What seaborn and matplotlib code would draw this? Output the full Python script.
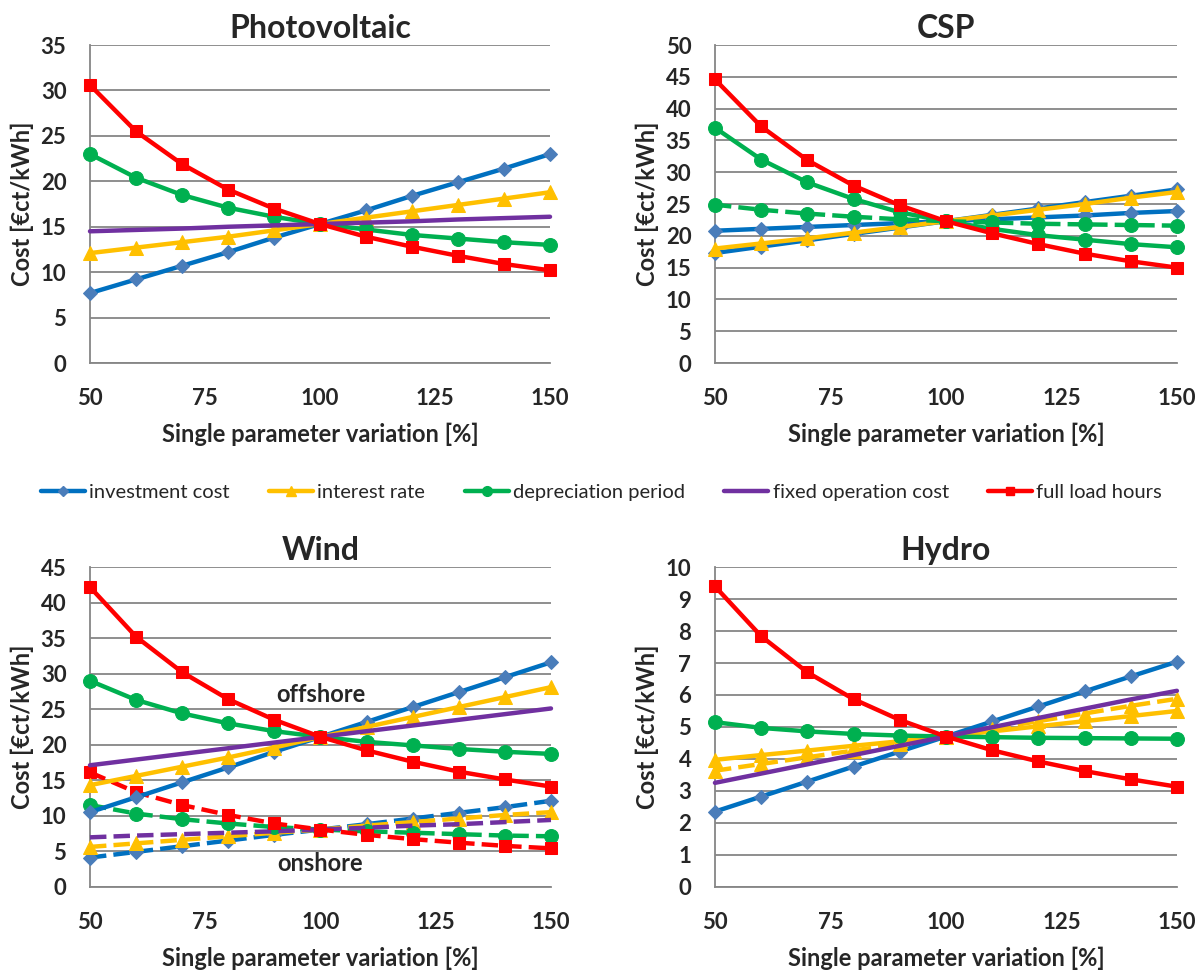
import numpy as np
import pandas as pd
import matplotlib
matplotlib.use('Agg')
import matplotlib.pyplot as plt
import seaborn as sns
from matplotlib.lines import Line2D

sns.set_style('white')
plt.rcParams['font.family'] = ['Lato', 'DejaVu Sans']

# Data
variation = [50, 60, 70, 80, 90, 100, 110, 120, 130, 140, 150]

pv_invest = [7.7, 9.2, 10.7, 12.2, 13.8, 15.3, 16.8, 18.4, 19.9, 21.4, 23.0]
pv_interest = [12.1, 12.7, 13.3, 13.9, 14.6, 15.3, 16.0, 16.7, 17.4, 18.1, 18.8]
pv_deprec = [23.0, 20.4, 18.5, 17.1, 16.1, 15.3, 14.7, 14.1, 13.7, 13.3, 13.0]
pv_fixed = [14.5, 14.65, 14.8, 15.0, 15.15, 15.3, 15.45, 15.6, 15.8, 15.95, 16.1]
pv_flh = [30.6, 25.5, 21.9, 19.1, 17.0, 15.3, 13.9, 12.8, 11.8, 10.9, 10.2]

csp_invest_a = [17.3, 18.3, 19.3, 20.3, 21.3, 22.3, 23.3, 24.3, 25.3, 26.3, 27.3]
csp_invest_b = [20.8, 21.1, 21.4, 21.7, 22.0, 22.3, 22.6, 22.9, 23.2, 23.6, 23.9]
csp_interest = [18.0, 18.8, 19.6, 20.5, 21.4, 22.3, 23.2, 24.1, 25.0, 26.0, 26.9]
csp_deprec = [37.0, 32.0, 28.4, 25.8, 23.7, 22.3, 21.1, 20.1, 19.4, 18.7, 18.2]
csp_deprec_b = [24.9, 24.1, 23.5, 23.0, 22.6, 22.3, 22.1, 21.9, 21.8, 21.7, 21.6]
csp_flh = [44.6, 37.2, 31.9, 27.9, 24.8, 22.3, 20.4, 18.7, 17.2, 16.0, 15.0]

wind_off_invest = [10.5, 12.6, 14.7, 16.8, 19.0, 21.1, 23.2, 25.3, 27.4, 29.5, 31.6]
wind_off_interest = [14.3, 15.6, 16.9, 18.2, 19.6, 21.1, 22.5, 23.9, 25.3, 26.7, 28.1]
wind_off_deprec = [29.0, 26.3, 24.4, 23.0, 21.9, 21.1, 20.4, 19.9, 19.4, 19.0, 18.7]
wind_off_fixed = [17.1, 17.9, 18.7, 19.5, 20.3, 21.1, 21.9, 22.7, 23.5, 24.3, 25.1]
wind_off_flh = [42.2, 35.2, 30.2, 26.4, 23.5, 21.1, 19.2, 17.6, 16.2, 15.1, 14.1]

wind_on_invest = [4.1, 4.9, 5.7, 6.5, 7.3, 8.05, 8.8, 9.6, 10.4, 11.2, 12.1]
wind_on_interest = [5.6, 6.1, 6.6, 7.1, 7.6, 8.05, 8.6, 9.1, 9.6, 10.1, 10.5]
wind_on_deprec = [11.5, 10.3, 9.5, 8.9, 8.4, 8.05, 7.8, 7.6, 7.4, 7.2, 7.1]
wind_on_fixed = [6.95, 7.2, 7.4, 7.6, 7.8, 8.05, 8.3, 8.6, 8.8, 9.1, 9.4]
wind_on_flh = [16.1, 13.3, 11.5, 10.1, 8.9, 8.05, 7.3, 6.7, 6.2, 5.75, 5.4]

hydro_invest = [2.35, 2.82, 3.29, 3.76, 4.23, 4.7, 5.17, 5.64, 6.11, 6.58, 7.04]
hydro_interest = [3.97, 4.12, 4.26, 4.41, 4.55, 4.7, 4.86, 5.02, 5.18, 5.34, 5.5]
hydro_interest_b = [3.63, 3.84, 4.05, 4.26, 4.47, 4.7, 4.94, 5.18, 5.42, 5.66, 5.88]
hydro_deprec = [5.15, 4.97, 4.86, 4.78, 4.73, 4.7, 4.68, 4.66, 4.65, 4.64, 4.63]
hydro_fixed = [3.25, 3.54, 3.83, 4.12, 4.41, 4.7, 4.99, 5.28, 5.57, 5.86, 6.13]
hydro_flh = [9.4, 7.84, 6.71, 5.87, 5.22, 4.7, 4.27, 3.92, 3.62, 3.36, 3.13]

# styles per parameter: colour, marker, marker size, marker face
styles = {
    'investment cost': ('#0070C0', 'D', 7, '#4A7DBA'),
    'interest rate': ('#FFC000', '^', 10, '#FFC000'),
    'depreciation period': ('#00B050', 'o', 10, '#00B050'),
    'fixed operation cost': ('#7030A0', None, 0, '#7030A0'),
    'full load hours': ('#FF0000', 's', 8, '#FF0000'),
}

panels = [
    ('Photovoltaic', [0.0748, 0.6269, 0.3824, 0.3268], 35, 5, [
        ('investment cost', pv_invest, '-'),
        ('interest rate', pv_interest, '-'),
        ('depreciation period', pv_deprec, '-'),
        ('fixed operation cost', pv_fixed, '-'),
        ('full load hours', pv_flh, '-')]),
    ('CSP', [0.5943, 0.6269, 0.3840, 0.3268], 50, 5, [
        ('investment cost', csp_invest_a, '-'),
        ('investment cost', csp_invest_b, '-'),
        ('interest rate', csp_interest, '-'),
        ('depreciation period', csp_deprec_b, '--'),
        ('depreciation period', csp_deprec, '-'),
        ('full load hours', csp_flh, '-')]),
    ('Wind', [0.0748, 0.0887, 0.3832, 0.3284], 45, 5, [
        ('investment cost', wind_on_invest, '--'),
        ('interest rate', wind_on_interest, '--'),
        ('depreciation period', wind_on_deprec, '--'),
        ('fixed operation cost', wind_on_fixed, '--'),
        ('full load hours', wind_on_flh, '--'),
        ('investment cost', wind_off_invest, '-'),
        ('interest rate', wind_off_interest, '-'),
        ('depreciation period', wind_off_deprec, '-'),
        ('fixed operation cost', wind_off_fixed, '-'),
        ('full load hours', wind_off_flh, '-')]),
    ('Hydro', [0.5943, 0.0887, 0.3840, 0.3284], 10, 1, [
        ('investment cost', hydro_invest, '-'),
        ('interest rate', hydro_interest_b, '--'),
        ('interest rate', hydro_interest, '-'),
        ('depreciation period', hydro_deprec, '-'),
        ('fixed operation cost', hydro_fixed, '-'),
        ('full load hours', hydro_flh, '-')]),
]

grey = '#868686'
fig = plt.figure(figsize=(12.03, 9.73), dpi=100)

for title, rect, ymax, ystep, series in panels:
    ax = fig.add_axes(rect)
    for name, vals, ls in series:
        col, mk, ms, mface = styles[name]
        sns.lineplot(x=variation, y=vals, ax=ax, color=col, linewidth=3.2,
                     linestyle=ls, marker=mk, markersize=ms,
                     markerfacecolor=mface, markeredgecolor=mface,
                     clip_on=False, zorder=3)
    ax.set_xlim(50, 150)
    ax.set_ylim(0, ymax)
    ax.set_xticks([50, 75, 100, 125, 150])
    ax.set_yticks(np.arange(0, ymax + ystep / 2, ystep))
    ax.yaxis.grid(True, color=grey, linewidth=1.3)
    ax.xaxis.grid(False)
    ax.set_axisbelow(True)
    for s in ['top', 'right']:
        ax.spines[s].set_visible(False)
    for s in ['left', 'bottom']:
        ax.spines[s].set_color(grey)
        ax.spines[s].set_linewidth(1.3)
    ax.tick_params(axis='both', direction='out', length=6, width=1.3,
                   color=grey, labelsize=16)
    ax.tick_params(axis='y', pad=11)
    ax.tick_params(axis='x', pad=12)
    for lab in ax.get_xticklabels() + ax.get_yticklabels():
        lab.set_fontweight('bold')
    ax.set_title(title, fontsize=23, fontweight='bold', pad=5)
    ax.set_xlabel('Single parameter variation [%]', fontsize=17,
                  fontweight='bold', labelpad=10)
    ax.set_ylabel('Cost [€ct/kWh]', fontsize=17, fontweight='bold',
                  labelpad=5)
    if title == 'Wind':
        ax.text(100, 27.0, 'offshore', fontsize=17, fontweight='bold',
                ha='center', va='center')
        ax.text(100, 3.3, 'onshore', fontsize=17, fontweight='bold',
                ha='center', va='center')

handles = []
for name, (col, mk, ms, mface) in styles.items():
    handles.append(Line2D([0], [0], color=col, linewidth=3.2, marker=mk,
                          markersize=ms * 0.7, markerfacecolor=mface,
                          markeredgecolor=mface, label=name))
fig.legend(handles=handles, loc='center', bbox_to_anchor=(0.5, 0.494),
           ncol=5, frameon=False, fontsize=14.5, handlelength=2.2,
           handletextpad=0.2, columnspacing=1.95)

fig.savefig('out.png', dpi=100)
